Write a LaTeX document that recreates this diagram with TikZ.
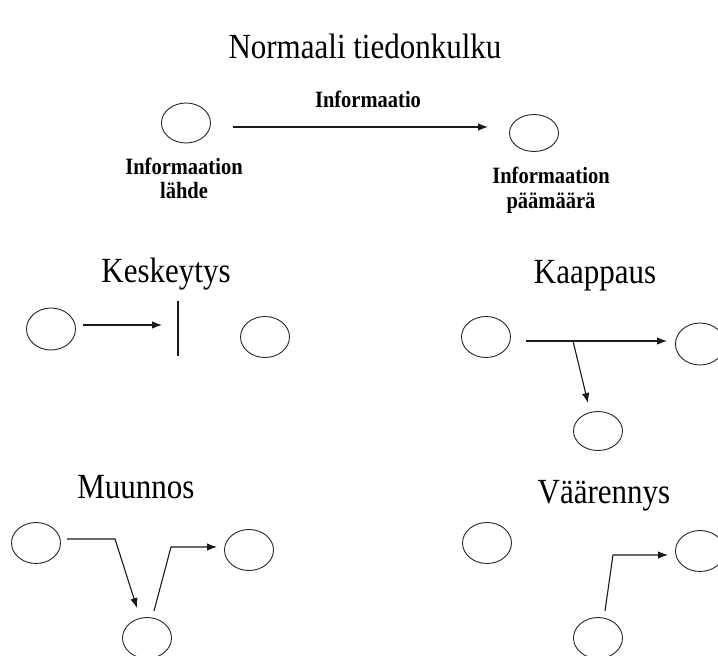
\documentclass[tikz,border=0pt]{standalone}
\usepackage{fontspec}
\usepackage{graphicx}
\setmainfont{Liberation Serif}
\usetikzlibrary{shapes.geometric,arrows.meta}
\newcommand{\tallA}[1]{\scalebox{1}[1.14]{#1}}
\tikzset{
  oval/.style={draw=black!85, ellipse, line width=0.9pt, minimum width=49pt, minimum height=41pt, inner sep=0pt},
  conn/.style={line width=1.1pt, draw=black!90},
  arr/.style={conn, -{Latex[length=10pt,width=7.5pt]}},
  heading/.style={anchor=base, inner sep=0pt, font=\fontsize{31}{36}\selectfont},
  lbl/.style={anchor=base, inner sep=0pt, font=\fontsize{20.5}{24}\selectfont\bfseries}
}
\begin{document}
\begin{tikzpicture}[x=1pt,y=-1pt]
\useasboundingbox (0,0) rectangle (718,656);
% title
\node[heading] (title) at (365,58) {\tallA{Normaali tiedonkulku}};
% normal flow
\node[oval, minimum height=40pt] (src) at (186,123) {};
\node[oval, minimum height=37pt] (dst) at (534,133) {};
\node[lbl] (info) at (368,107) {\tallA{Informaatio}};
\node[lbl] (srcl1) at (184,174) {\tallA{Informaation}};
\node[lbl] (srcl2) at (184,198) {\tallA{lähde}};
\node[lbl] (dstl1) at (551,183) {\tallA{Informaation}};
\node[lbl] (dstl2) at (551,208) {\tallA{päämäärä}};
\coordinate (n1) at (233,127);
\coordinate (n2) at (488,127);
\draw[arr] (n1) -- (n2);
% Keskeytys
\node[heading] (kesk) at (166,282) {\tallA{Keskeytys}};
\node[oval, minimum height=42pt] (k1) at (51,329) {};
\node[oval] (k2) at (265,337) {};
\coordinate (k1a) at (83,325);
\coordinate (k1b) at (162,325);
\draw[arr] (k1a) -- (k1b);
\coordinate (bar1) at (178,301);
\coordinate (bar2) at (178,356);
\draw[conn] (bar1) -- (bar2);
% Kaappaus
\node[heading] (kaap) at (595,283) {\tallA{Kaappaus}};
\node[oval] (ka1) at (486,337) {};
\node[oval, minimum height=42pt] (ka2) at (700,344) {};
\node[oval, minimum height=39pt] (ka3) at (598,431) {};
\coordinate (ka1a) at (526,341);
\coordinate (ka1b) at (667,341);
\coordinate (kaj) at (573,341);
\coordinate (ka3a) at (588,403);
\draw[arr] (ka1a) -- (ka1b);
\draw[arr] (kaj) -- (ka3a);
% Muunnos
\node[heading] (muun) at (136,498) {\tallA{Muunnos}};
\node[oval] (m1) at (36,543) {};
\node[oval] (m2) at (249,550) {};
\node[oval] (m3) at (147,638) {};
\coordinate (m1a) at (67,539);
\coordinate (m1b) at (115,539);
\coordinate (m1c) at (137,608);
\coordinate (m2a) at (154,611);
\coordinate (m2b) at (171,547);
\coordinate (m2c) at (217,547);
\draw[arr] (m1a) -- (m1b) -- (m1c);
\draw[arr] (m2a) -- (m2b) -- (m2c);
% Vaarennys
\node[heading] (vaar) at (604,503) {\tallA{Väärennys}};
\node[oval] (v1) at (487,543) {};
\node[oval] (v2) at (700,551) {};
\node[oval] (v3) at (598,638) {};
\coordinate (v1a) at (605,611);
\coordinate (v1b) at (613,555);
\coordinate (v1c) at (668,555);
\draw[arr] (v1a) -- (v1b) -- (v1c);
\end{tikzpicture}
\end{document}
